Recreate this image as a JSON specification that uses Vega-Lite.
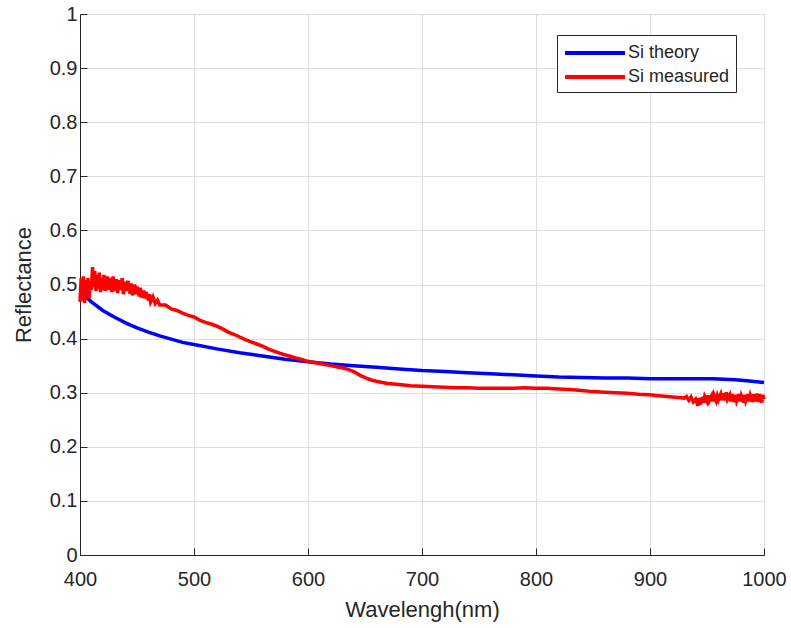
{
  "$schema": "https://vega.github.io/schema/vega-lite/v6.json",
  "width": 684,
  "height": 541,
  "autosize": {"type": "none"},
  "padding": {"left": 80, "top": 14, "right": 27, "bottom": 73},
  "background": "white",
  "config": {
    "view": {"stroke": "#262626", "strokeWidth": 1}
  },
  "datasets": {
    "theory": [
      {"wl": 405, "r": 0.478}, {"wl": 410, "r": 0.468}, {"wl": 420, "r": 0.452}, {"wl": 430, "r": 0.44},
      {"wl": 440, "r": 0.429}, {"wl": 450, "r": 0.42}, {"wl": 460, "r": 0.412}, {"wl": 470, "r": 0.405},
      {"wl": 480, "r": 0.399}, {"wl": 490, "r": 0.393}, {"wl": 500, "r": 0.389}, {"wl": 520, "r": 0.381},
      {"wl": 540, "r": 0.374}, {"wl": 560, "r": 0.368}, {"wl": 580, "r": 0.362}, {"wl": 600, "r": 0.357},
      {"wl": 620, "r": 0.353}, {"wl": 640, "r": 0.35}, {"wl": 660, "r": 0.347}, {"wl": 680, "r": 0.344},
      {"wl": 700, "r": 0.341}, {"wl": 720, "r": 0.339}, {"wl": 740, "r": 0.337}, {"wl": 760, "r": 0.335},
      {"wl": 780, "r": 0.333}, {"wl": 800, "r": 0.331}, {"wl": 820, "r": 0.329}, {"wl": 840, "r": 0.328},
      {"wl": 860, "r": 0.327}, {"wl": 880, "r": 0.327}, {"wl": 900, "r": 0.326}, {"wl": 920, "r": 0.326},
      {"wl": 940, "r": 0.326}, {"wl": 955, "r": 0.326}, {"wl": 965, "r": 0.325}, {"wl": 975, "r": 0.324},
      {"wl": 985, "r": 0.322}, {"wl": 1000, "r": 0.319}
    ],
    "measured": [
      {"wl": 400, "r": 0.468}, {"wl": 401, "r": 0.512}, {"wl": 402, "r": 0.47}, {"wl": 403, "r": 0.515},
      {"wl": 404, "r": 0.466}, {"wl": 405, "r": 0.508}, {"wl": 406, "r": 0.478}, {"wl": 407, "r": 0.512},
      {"wl": 408, "r": 0.474}, {"wl": 409, "r": 0.505}, {"wl": 410, "r": 0.49}, {"wl": 411, "r": 0.532},
      {"wl": 412, "r": 0.495}, {"wl": 413, "r": 0.525}, {"wl": 414, "r": 0.488}, {"wl": 415, "r": 0.518},
      {"wl": 416, "r": 0.492}, {"wl": 417, "r": 0.522}, {"wl": 418, "r": 0.486}, {"wl": 419, "r": 0.512},
      {"wl": 420, "r": 0.49}, {"wl": 421, "r": 0.518}, {"wl": 422, "r": 0.488}, {"wl": 424, "r": 0.515},
      {"wl": 425, "r": 0.49}, {"wl": 426, "r": 0.512}, {"wl": 428, "r": 0.486}, {"wl": 429, "r": 0.515},
      {"wl": 430, "r": 0.488}, {"wl": 432, "r": 0.51}, {"wl": 433, "r": 0.484}, {"wl": 434, "r": 0.508},
      {"wl": 436, "r": 0.49}, {"wl": 437, "r": 0.512}, {"wl": 438, "r": 0.482}, {"wl": 440, "r": 0.505},
      {"wl": 441, "r": 0.488}, {"wl": 442, "r": 0.507}, {"wl": 444, "r": 0.483}, {"wl": 445, "r": 0.502},
      {"wl": 446, "r": 0.48}, {"wl": 448, "r": 0.5}, {"wl": 449, "r": 0.482}, {"wl": 450, "r": 0.496},
      {"wl": 452, "r": 0.478}, {"wl": 453, "r": 0.494}, {"wl": 454, "r": 0.476}, {"wl": 456, "r": 0.489},
      {"wl": 457, "r": 0.474}, {"wl": 458, "r": 0.486}, {"wl": 460, "r": 0.471}, {"wl": 461, "r": 0.482},
      {"wl": 462, "r": 0.468}, {"wl": 464, "r": 0.477}, {"wl": 466, "r": 0.465}, {"wl": 468, "r": 0.471},
      {"wl": 470, "r": 0.462},
      {"wl": 475, "r": 0.462}, {"wl": 480, "r": 0.455}, {"wl": 485, "r": 0.452}, {"wl": 490, "r": 0.447},
      {"wl": 495, "r": 0.443}, {"wl": 500, "r": 0.44}, {"wl": 505, "r": 0.434}, {"wl": 510, "r": 0.43},
      {"wl": 515, "r": 0.427}, {"wl": 520, "r": 0.423}, {"wl": 525, "r": 0.418}, {"wl": 530, "r": 0.412},
      {"wl": 535, "r": 0.408}, {"wl": 540, "r": 0.403}, {"wl": 545, "r": 0.398}, {"wl": 550, "r": 0.394},
      {"wl": 555, "r": 0.39}, {"wl": 560, "r": 0.386}, {"wl": 565, "r": 0.381}, {"wl": 570, "r": 0.377},
      {"wl": 575, "r": 0.373}, {"wl": 580, "r": 0.37}, {"wl": 585, "r": 0.367}, {"wl": 590, "r": 0.364},
      {"wl": 595, "r": 0.361}, {"wl": 600, "r": 0.358}, {"wl": 605, "r": 0.356}, {"wl": 610, "r": 0.354},
      {"wl": 615, "r": 0.352}, {"wl": 620, "r": 0.35}, {"wl": 625, "r": 0.348}, {"wl": 630, "r": 0.346},
      {"wl": 635, "r": 0.343}, {"wl": 640, "r": 0.339}, {"wl": 645, "r": 0.333}, {"wl": 650, "r": 0.328},
      {"wl": 655, "r": 0.324}, {"wl": 660, "r": 0.321}, {"wl": 665, "r": 0.319}, {"wl": 670, "r": 0.317},
      {"wl": 680, "r": 0.315}, {"wl": 690, "r": 0.313}, {"wl": 700, "r": 0.312}, {"wl": 710, "r": 0.311},
      {"wl": 720, "r": 0.31}, {"wl": 730, "r": 0.309}, {"wl": 740, "r": 0.309}, {"wl": 750, "r": 0.308},
      {"wl": 760, "r": 0.308}, {"wl": 770, "r": 0.308}, {"wl": 780, "r": 0.308}, {"wl": 790, "r": 0.309},
      {"wl": 800, "r": 0.308}, {"wl": 810, "r": 0.308}, {"wl": 820, "r": 0.307}, {"wl": 830, "r": 0.306},
      {"wl": 840, "r": 0.304}, {"wl": 850, "r": 0.302}, {"wl": 860, "r": 0.301}, {"wl": 870, "r": 0.3},
      {"wl": 880, "r": 0.299}, {"wl": 890, "r": 0.297}, {"wl": 900, "r": 0.296}, {"wl": 905, "r": 0.295},
      {"wl": 910, "r": 0.294}, {"wl": 915, "r": 0.293}, {"wl": 920, "r": 0.292}, {"wl": 925, "r": 0.291},
      {"wl": 930, "r": 0.29}, {"wl": 932, "r": 0.293}, {"wl": 934, "r": 0.286}, {"wl": 936, "r": 0.292},
      {"wl": 938, "r": 0.283}, {"wl": 940, "r": 0.288}, {"wl": 942, "r": 0.276}, {"wl": 943, "r": 0.29},
      {"wl": 944, "r": 0.278}, {"wl": 946, "r": 0.292}, {"wl": 947, "r": 0.281}, {"wl": 948, "r": 0.293},
      {"wl": 950, "r": 0.284}, {"wl": 951, "r": 0.295}, {"wl": 952, "r": 0.285}, {"wl": 954, "r": 0.294},
      {"wl": 955, "r": 0.284}, {"wl": 956, "r": 0.296}, {"wl": 958, "r": 0.285}, {"wl": 959, "r": 0.294},
      {"wl": 960, "r": 0.287}, {"wl": 962, "r": 0.297}, {"wl": 963, "r": 0.286}, {"wl": 964, "r": 0.299},
      {"wl": 966, "r": 0.286}, {"wl": 967, "r": 0.301}, {"wl": 968, "r": 0.288}, {"wl": 970, "r": 0.296},
      {"wl": 971, "r": 0.284}, {"wl": 972, "r": 0.297}, {"wl": 974, "r": 0.283}, {"wl": 975, "r": 0.296},
      {"wl": 976, "r": 0.285}, {"wl": 978, "r": 0.297}, {"wl": 979, "r": 0.284}, {"wl": 980, "r": 0.294},
      {"wl": 982, "r": 0.282}, {"wl": 983, "r": 0.296}, {"wl": 984, "r": 0.285}, {"wl": 986, "r": 0.297},
      {"wl": 987, "r": 0.284}, {"wl": 988, "r": 0.295}, {"wl": 990, "r": 0.283}, {"wl": 991, "r": 0.297},
      {"wl": 992, "r": 0.284}, {"wl": 994, "r": 0.298}, {"wl": 995, "r": 0.283}, {"wl": 996, "r": 0.297},
      {"wl": 998, "r": 0.282}, {"wl": 999, "r": 0.296}, {"wl": 1000, "r": 0.288}
    ]
  },
  "layer": [
    {
      "data": {"name": "theory"},
      "transform": [{"calculate": "'Si theory'", "as": "series"}],
      "mark": {"type": "line", "strokeWidth": 3.5},
      "encoding": {
        "x": {"field": "wl", "type": "quantitative", "scale": {"domain": [400, 1000], "nice": false},
              "axis": {"title": "Wavelengh(nm)", "values": [400, 500, 600, 700, 800, 900, 1000], "format": "d",
                       "labelFont": "Liberation Sans", "titleFont": "Liberation Sans",
                       "labelFontSize": 20, "titleFontSize": 22, "titleFontWeight": "normal",
                       "labelColor": "#262626", "titleColor": "#262626",
                       "domainColor": "#262626", "tickColor": "#262626", "gridColor": "#dedede",
                       "tickSize": -7, "labelPadding": 21, "titlePadding": 10, "labelFlush": false}},
        "y": {"field": "r", "type": "quantitative", "scale": {"domain": [0, 1], "nice": false},
              "axis": {"title": "Reflectance", "values": [0, 0.1, 0.2, 0.3, 0.4, 0.5, 0.6, 0.7, 0.8, 0.9, 1], "format": "~g",
                       "labelFont": "Liberation Sans", "titleFont": "Liberation Sans",
                       "labelFontSize": 20, "titleFontSize": 22, "titleFontWeight": "normal",
                       "labelColor": "#262626", "titleColor": "#262626",
                       "domainColor": "#262626", "tickColor": "#262626", "gridColor": "#dedede",
                       "tickSize": -7, "labelPadding": 10, "titlePadding": 14, "labelFlush": false}},
        "color": {"field": "series", "type": "nominal",
                  "scale": {"domain": ["Si theory", "Si measured"], "range": ["#0000ff", "#ff0000"]},
                  "legend": {"title": null, "orient": "none", "legendX": 477, "legendY": 21,
                             "symbolType": "M-3,0H3", "symbolSize": 400, "symbolStrokeWidth": 4,
                             "symbolOffset": 20,
                             "labelFontSize": 18, "labelFont": "Liberation Sans", "labelColor": "#262626",
                             "strokeColor": "#262626", "fillColor": "white", "padding": 6,
                             "labelOffset": 21, "rowPadding": 3}}
      }
    },
    {
      "data": {"name": "measured"},
      "transform": [{"calculate": "'Si measured'", "as": "series"}],
      "mark": {"type": "line", "strokeWidth": 3.5},
      "encoding": {
        "x": {"field": "wl", "type": "quantitative"},
        "y": {"field": "r", "type": "quantitative"},
        "color": {"field": "series", "type": "nominal"}
      }
    }
  ]
}
